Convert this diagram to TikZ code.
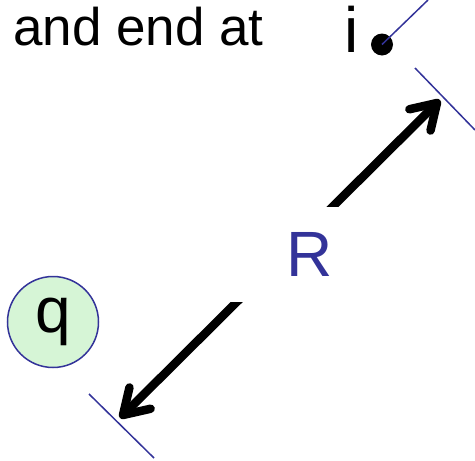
\documentclass[tikz,border=0pt]{standalone}
\usepackage{fontspec}
\setmainfont{Liberation Sans}
\usetikzlibrary{arrows.meta}
\definecolor{lineblue}{HTML}{333399}
\definecolor{chargegreen}{HTML}{D6F5D6}

\begin{document}
\begin{tikzpicture}[x=1pt,y=-1pt,inner sep=0pt,
	caption/.style={font=\fontsize{53}{60}\selectfont},
	big/.style={font=\fontsize{64}{72}\selectfont},
	charge/.style={circle,draw=lineblue,fill=chargegreen,line width=1.5pt,minimum size=91pt,big},
	spot/.style={circle,fill=black,minimum size=22pt},
	guide/.style={lineblue,line width=1.5pt},
	dist/.style={line width=8.5pt,{Straight Barb[round,length=24pt,width=30pt]}-{Straight Barb[round,length=24pt,width=30pt]}}]
	
	\useasboundingbox (0,0) rectangle (475,461);
	
	\node at (13,45) [caption,anchor=base west] (txt) {and end at};
	\node at (344,52) [big,anchor=base west] (ilab) {i};
	\node at (382,44.5) [spot] (dot) {};
	\node at (53,322) [charge] (q) {q};
	
	\coordinate (lo) at (120,418);
	\coordinate (hi) at (440,100);
	\coordinate (d1) at (428,0);
	\coordinate (t1) at (415,68);
	\coordinate (t2) at (475,130);
	\coordinate (t3) at (89,394);
	\coordinate (t4) at (154,458);
	
	\path
	(lo) edge[dist] (hi)
	(dot.center) edge[guide] (d1)
	(t1) edge[guide] (t2)
	(t3) edge[guide] (t4)
	;
	
	% distance label sits on the arrow
	\node at (310,254.5) [big,text=lineblue,fill=white,minimum width=160pt,minimum height=95pt] (R) {R};
	
\end{tikzpicture}
\end{document}
